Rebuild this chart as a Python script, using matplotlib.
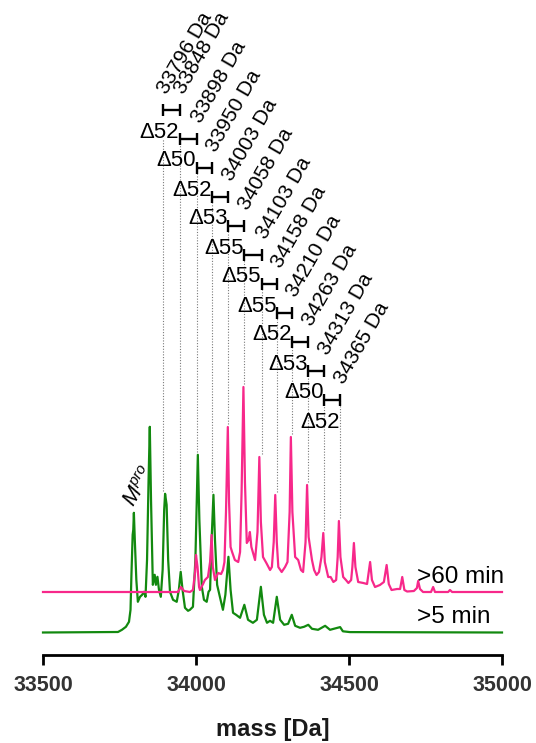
import numpy as np
import matplotlib
matplotlib.use('Agg')
import matplotlib.pyplot as plt

plt.rcParams['font.family'] = ['Liberation Sans', 'DejaVu Sans']
plt.rcParams['mathtext.fontset'] = 'custom'
plt.rcParams['mathtext.it'] = 'Liberation Sans:italic'
plt.rcParams['mathtext.rm'] = 'Liberation Sans'

# ---------------- data ----------------
green_mass = [33500, 33745, 33758, 33771, 33781, 33786, 33789, 33793, 33795, 33797,
              33800, 33805, 33810, 33817, 33824, 33830, 33835, 33840, 33845, 33849,
              33853, 33859, 33865, 33869, 33874, 33879, 33885, 33891, 33896, 33899,
              33904, 33909, 33915, 33925, 33937, 33944, 33950, 33956, 33964, 33974,
              33980, 33990, 33998, 34006, 34011, 34019, 34026, 34035, 34041, 34046,
              34051, 34057, 34062, 34069, 34078, 34088, 34096, 34106, 34113, 34121,
              34131, 34144, 34158, 34170, 34186, 34199, 34212, 34222, 34232, 34242,
              34252, 34264, 34275, 34288, 34301, 34313, 34324, 34340, 34353, 34367,
              34379, 34399, 34422, 34438, 34471, 34480, 34503, 35000]
green_int = [0, 0.5, 2.7, 5.7, 10.7, 22.7, 57.7, 97.7, 102.7, 119.7,
             92.7, 52.7, 30.7, 35.7, 37.7, 40.7, 35.7, 72.7, 152.7, 205.7,
             132.7, 47.7, 57.7, 47.7, 55.7, 42.7, 35.7, 62.7, 122.7, 138.7,
             127.7, 72.7, 40.7, 32.7, 30.7, 42.7, 60.7, 42.7, 24.7, 21.7,
             22.7, 25.7, 72.7, 177.7, 112.7, 45.7, 32.7, 30.7, 40.7, 42.7,
             92.7, 137.7, 92.7, 47.7, 35.7, 22.7, 37.7, 75.7, 42.7, 19.7,
             17.7, 14.7, 27.7, 12.7, 9.7, 12.7, 45.7, 17.7, 9.7, 11.7,
             9.7, 35.7, 12.7, 7.7, 8.7, 17.7, 6.7, 4.7, 5.7, 7.7,
             3.7, 2.7, 6.7, 2.7, 5.4, 1.2, 0.4, 0]

pink_mass = [33500, 33941, 33951, 33961, 33980, 33990, 33997, 34000, 34005, 34010,
             34013, 34023, 34029, 34039, 34046, 34051, 34055, 34062, 34072, 34082,
             34088, 34093, 34098, 34104, 34108, 34113, 34118, 34127, 34138, 34144,
             34149, 34155, 34160, 34166, 34172, 34176, 34181, 34193, 34201, 34207,
             34212, 34219, 34230, 34242, 34248, 34254, 34259, 34264, 34269, 34280,
             34291, 34299, 34306, 34310, 34315, 34324, 34334, 34343, 34350, 34358,
             34363, 34368, 34379, 34386, 34394, 34402, 34410, 34416, 34421, 34432,
             34440, 34449, 34458, 34463, 34467, 34472, 34481, 34490, 34498, 34507,
             34511, 34516, 34521, 34530, 34547, 34559, 34569, 34575, 34585, 34601,
             34614, 34623, 34630, 34639, 34657, 34667, 34674, 34681, 34690, 34712,
             34722, 34726, 34732, 34742, 34768, 34775, 34781, 34824, 34830, 34837,
             35000]
pink_int = [0, 0, 5, 1, 0, 2, 20, 37, 25, 5,
            2, 8, 12, 15, 30, 57, 25, 12, 19, 18,
            22, 30, 80, 165, 90, 45, 40, 32, 30, 40,
            100, 205, 110, 49, 52, 60, 45, 32, 60, 135,
            70, 35, 29, 22, 25, 50, 97, 50, 25, 20,
            25, 30, 80, 155, 80, 35, 32, 22, 20, 50,
            107, 55, 32, 22, 17, 20, 35, 59, 30, 15,
            15, 10, 12, 35, 71, 35, 15, 12, 9, 12,
            25, 49, 25, 10, 9, 8, 30, 12, 5, 7,
            10, 27, 8, 2, 3, 3, 15, 2, 0.5, 1,
            4, 11, 3, 0, 0, 5, 0, 0, 2, 0,
            0]

peak_labels = ['33796 Da', '33848 Da', '33898 Da', '33950 Da', '34003 Da', '34058 Da',
               '34103 Da', '34158 Da', '34210 Da', '34263 Da', '34313 Da', '34365 Da']
delta_labels = ['Δ52', 'Δ50', 'Δ52', 'Δ53', 'Δ55', 'Δ55', 'Δ55', 'Δ52', 'Δ53', 'Δ50', 'Δ52']
marker_mass = [33892, 33948, 34003, 34052, 34105, 34157, 34216, 34265, 34314, 34366, 34418, 34470]
xticks = [33500, 34000, 34500, 35000]
trace_labels = ['>5 min', '>60 min']
protein_label = r'$M^{pro}$'

GREEN = '#12890f'
PINK = '#f7288a'
GREEN_OFF = 22.5
PINK_OFF = 63.0

# ---------------- figure ----------------
fig = plt.figure(figsize=(5.36, 7.43), dpi=100)
ax = fig.add_axes([43 / 536, 88 / 743, 459 / 536, 655 / 743])
ax.set_xlim(33500, 35000)
ax.set_ylim(0, 655)

gm = np.array(green_mass, float)
gi = np.array(green_int, float) + GREEN_OFF
pm = np.array(pink_mass, float)
pi = np.array(pink_int, float) + PINK_OFF

ax.plot(gm, gi, color=GREEN, lw=1.6, solid_joinstyle='round', clip_on=False, zorder=3)
ax.plot(pm, pi, color=PINK, lw=1.6, solid_joinstyle='round', clip_on=False, zorder=4)

# bracket levels
n_br = len(delta_labels)
bracket_y = [545 - 29 * i for i in range(n_br)]

# dotted guide lines
for k, x in enumerate(marker_mass):
    top = bracket_y[min(max(k, 1), n_br - 1)]
    wg = (gm >= x - 10) & (gm <= x + 10)
    wp = (pm >= x - 10) & (pm <= x + 10)
    peak = max(gi[wg].max() if wg.any() else 0, pi[wp].max() if wp.any() else 0)
    ax.plot([x, x], [peak + 3, top], ls=(0, (1, 1.5)), color='#7a7a7a', lw=0.8, zorder=2)

# brackets and delta labels
for i in range(n_br):
    x0, x1, y = marker_mass[i], marker_mass[i + 1], bracket_y[i]
    ax.plot([x0, x1], [y, y], color='black', lw=1.7, zorder=5, solid_capstyle='butt')
    ax.plot([x0, x0], [y - 6, y + 6], color='black', lw=1.7, zorder=5, solid_capstyle='butt')
    ax.plot([x1, x1], [y - 6, y + 6], color='black', lw=1.7, zorder=5, solid_capstyle='butt')
    ax.annotate(delta_labels[i], xy=((x0 + x1) / 2, y), xytext=(-12, -22),
                textcoords='offset pixels', ha='center', va='center', fontsize=16,
                annotation_clip=False)

# rotated mass labels
for k, lab in enumerate(peak_labels):
    y = bracket_y[max(k - 1, 0)]
    ax.annotate(lab, xy=(marker_mass[k], y), xytext=(4, 15), textcoords='offset pixels',
                rotation=60, rotation_mode='anchor', ha='left', va='baseline',
                fontsize=15, annotation_clip=False)

# protein label
ax.text(33797, 147, protein_label, rotation=60, rotation_mode='anchor',
        ha='left', va='baseline', fontsize=15.5)

# trace labels
ax.text(34721, 32, trace_labels[0], fontsize=17.5, ha='left', va='baseline')
ax.text(34721, 72, trace_labels[1], fontsize=17.5, ha='left', va='baseline')

# axes styling
for s in ['top', 'right', 'left']:
    ax.spines[s].set_visible(False)
ax.spines['bottom'].set_linewidth(2)
ax.set_yticks([])
ax.set_xticks(xticks)
ax.set_xticklabels([str(t) for t in xticks], fontweight='bold')
ax.tick_params(axis='x', length=7.5, width=2, direction='out', pad=7,
               labelsize=15.5, labelcolor='#333333')
ax.set_xlabel('mass [Da]', fontsize=17, fontweight='bold', labelpad=16, color='#1a1a1a')

fig.savefig('out.png', dpi=100)
